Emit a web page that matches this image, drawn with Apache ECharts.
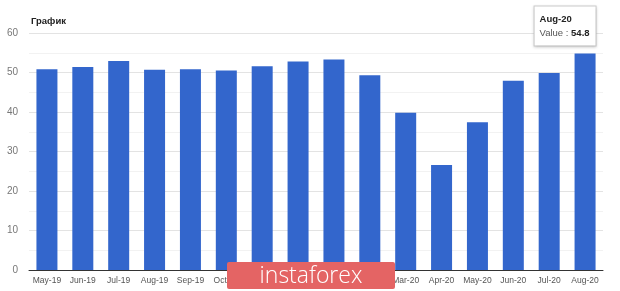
<!DOCTYPE html>
<html>
<head>
<meta charset="utf-8">
<script src="https://cdn.jsdelivr.net/npm/echarts@6/dist/echarts.min.js"></script>
<style>
html,body{margin:0;padding:0;background:#fff;}
#c{width:620px;height:291px;}
</style>
</head>
<body>
<div id="c"></div>
<script>
const categories = ["May-19","Jun-19","Jul-19","Aug-19","Sep-19","Oct-19","Nov-19","Dec-19","Jan-20","Feb-20","Mar-20","Apr-20","May-20","Jun-20","Jul-20","Aug-20"];
const values = [50.8, 51.4, 52.9, 50.7, 50.8, 50.5, 51.6, 52.8, 53.3, 49.3, 39.8, 26.6, 37.4, 47.9, 49.9, 54.8];
const yTicks = [0, 10, 20, 30, 40, 50, 60];
const titleText = "График";
const watermarkText = "instaforex";
const highlightIndex = 15;

const FONT = "'Liberation Sans', Arial, sans-serif";
const chart = echarts.init(document.getElementById('c'), null, {renderer: 'canvas'});

const data = values.map((v, i) => {
  if (i !== highlightIndex) return v;
  return {
    value: v,
    label: {
      show: true,
      position: 'top',
      distance: 8,
      offset: [-20, 0],
      backgroundColor: '#fff',
      borderColor: '#cccccc',
      borderWidth: 1,
      padding: [6, 6, 5, 5],
      shadowColor: 'rgba(0,0,0,0.15)',
      shadowBlur: 3,
      shadowOffsetY: 1,
      formatter: p => '{b|' + p.name + '}\n{n|Value : }{v|' + p.value + '}',
      rich: {
        b: {fontFamily: FONT, fontWeight: 'bold', fontSize: 9.5, color: '#222', lineHeight: 14, align: 'left'},
        n: {fontFamily: FONT, fontSize: 9.5, color: '#555', lineHeight: 14, align: 'left'},
        v: {fontFamily: FONT, fontWeight: 'bold', fontSize: 9.5, color: '#222', lineHeight: 14, align: 'left'}
      }
    }
  };
});

chart.setOption({
  animation: false,
  backgroundColor: '#fff',
  title: {
    text: titleText,
    left: 26,
    top: 11,
    textStyle: {fontFamily: FONT, fontSize: 9.5, fontWeight: 'bold', color: '#222'}
  },
  grid: {left: 29, right: 17, top: 33, bottom: 21},
  xAxis: {
    type: 'category',
    data: categories,
    axisTick: {show: false},
    axisLine: {lineStyle: {color: '#333', width: 1}},
    axisLabel: {fontFamily: FONT, fontSize: 8.5, color: '#555', margin: 6, interval: 0}
  },
  yAxis: {
    type: 'value',
    min: yTicks[0],
    max: yTicks[yTicks.length - 1],
    interval: 10,
    axisLine: {show: false},
    axisTick: {show: false},
    axisLabel: {fontFamily: FONT, fontSize: 10, color: '#777', margin: 11},
    splitLine: {lineStyle: {color: '#e3e3e3', width: 1}},
    minorTick: {show: false, splitNumber: 2},
    minorSplitLine: {show: true, lineStyle: {color: '#f2f2f2', width: 1}}
  },
  series: [{
    type: 'bar',
    data: data,
    barWidth: 21,
    itemStyle: {color: '#3366cc'},
    z: 2
  }],
  graphic: [{
    type: 'group',
    left: 227,
    top: 262,
    z: 100,
    children: [
      {type: 'rect', z: 100, shape: {x: 0, y: 0, width: 168, height: 27, r: 2}, style: {fill: '#e46464'}},
      {type: 'text', z: 101, x: 84, y: 14, style: {text: watermarkText, fill: '#fff', fontFamily: "'Open Sans', 'Liberation Sans', sans-serif", fontSize: 23, fontWeight: 300, align: 'center', verticalAlign: 'middle'}}
    ]
  }]
});
</script>
</body>
</html>
